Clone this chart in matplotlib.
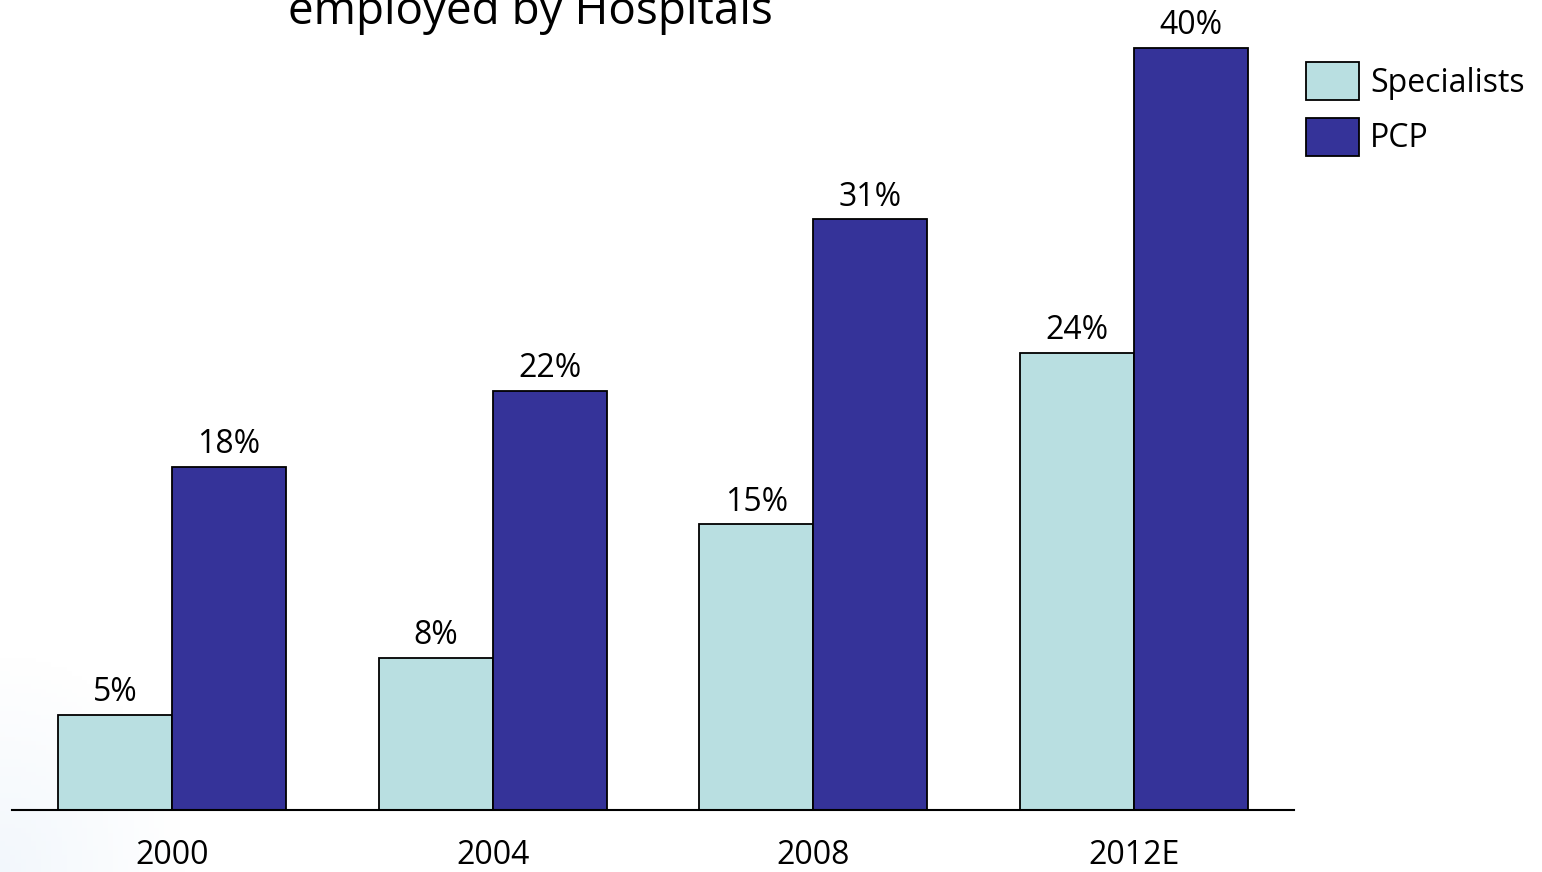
import numpy as np
import matplotlib.pyplot as plt
from matplotlib.patches import Patch

years = ["2000", "2004", "2008", "2012E"]
specialists = [5, 8, 15, 24]
pcp = [18, 22, 31, 40]

light = "#B9DFE1"
dark = "#353399"

plt.rcParams["font.family"] = ["Open Sans", "DejaVu Sans"]

fig = plt.figure(figsize=(15.42, 8.72), dpi=100)

# faint blue glow in the lower left corner
bg = fig.add_axes([0, 0, 1, 1], zorder=-10)
gx, gy = np.meshgrid(np.linspace(0, 1, 300), np.linspace(0, 1, 200))
dist = np.sqrt((gx / 0.12) ** 2 + (gy / 0.25) ** 2)
alpha = np.clip(1 - dist, 0, 1) * 0.25
img = np.ones((200, 300, 4))
img[..., 0] = 0.80
img[..., 1] = 0.88
img[..., 2] = 0.96
img[..., 3] = alpha
bg.imshow(img, origin="lower", extent=[0, 1, 0, 1], aspect="auto")
bg.axis("off")

ax = fig.add_axes([12 / 1542, 1 - 810 / 872, (1294 - 12) / 1542, 810 / 872])
ax.patch.set_alpha(0)

x = np.arange(len(years))
w = 0.355
b1 = ax.bar(x - w / 2, specialists, w, color=light, edgecolor="black", linewidth=1.3)
b2 = ax.bar(x + w / 2, pcp, w, color=dark, edgecolor="black", linewidth=1.3)

for bars, vals in [(b1, specialists), (b2, pcp)]:
    for b, v in zip(bars, vals):
        ax.annotate(f"{v}%", (b.get_x() + b.get_width() / 2, v),
                    xytext=(0, 4), textcoords="offset points",
                    ha="center", va="bottom", fontsize=23)

ax.set_xlim(-0.5, 3.5)
ax.set_ylim(0, 42.5)
ax.set_xticks(x)
ax.set_xticklabels(years, fontsize=23)
ax.tick_params(axis="x", length=0, pad=21)
ax.set_yticks([])
for s in ["top", "right", "left"]:
    ax.spines[s].set_visible(False)
ax.spines["bottom"].set_linewidth(1.5)

fig.text(530 / 1542, 1 - 24 / 872, "employed by Hospitals", fontsize=33,
         ha="center", va="baseline")

handles = [Patch(facecolor=light, edgecolor="black", linewidth=1.3),
           Patch(facecolor=dark, edgecolor="black", linewidth=1.3)]
fig.legend(handles, ["Specialists", "PCP"], loc="upper left",
           bbox_to_anchor=(1284 / 1542, 1 - 40 / 872), frameon=False,
           fontsize=23, handlelength=1.65, handleheight=1.45,
           labelspacing=0.55, handletextpad=0.35, borderpad=0.2)

fig.savefig("out.png", dpi=100)
